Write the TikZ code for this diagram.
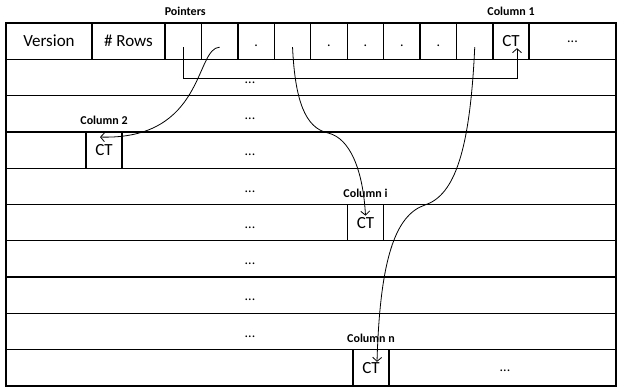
\documentclass[tikz,border=0pt]{standalone}
\usepackage{fontspec}
\setmainfont{Carlito}
\usetikzlibrary{arrows.meta,positioning,calc}

\begin{document}
\begin{tikzpicture}[
  x=0.5pt,
  y=-0.5pt,
  >={Straight Barb[length=2pt,width=4.5pt]},
  rowbox/.style={draw,line width=.65pt,minimum width=305pt,minimum height=18.15pt,inner sep=0pt},
  cell/.style={draw,line width=.65pt,minimum height=18.15pt,inner sep=0pt,
    font=\fontsize{8.5}{10}\selectfont},
  ptr/.style={cell,minimum width=18.22pt},
  ctbox/.style={cell,minimum width=18pt},
  tag/.style={font=\bfseries\fontsize{6}{7}\selectfont,inner sep=1pt},
  dots/.style={font=\fontsize{7}{8}\selectfont,inner sep=0pt},
  link/.style={->,line width=.4pt}
]

\useasboundingbox (0,0) rectangle (622,390);

% table rows
\foreach \r in {1,...,10}
  \node[rowbox] (row\r) at (311,{23+36.3*(\r-0.5)}) {};
\foreach \r in {2,...,9}
  \node[dots] (gap\r) at ($(row\r)+(-61,5)$) {...};

% header row
\node[cell,minimum width=43pt] (version) at (49,41.15) {Version};
\node[cell,minimum width=36.5pt] (nrows) at (128.5,41.15) {\# Rows};
\foreach \i in {1,...,9}
  \node[ptr] (p\i) at ({165+36.44*(\i-0.5)},41.15) {};
\foreach \i in {3,5,6,7,8}
  \node[dots] (pd\i) at ($(p\i)+(0,5)$) {.};
\node[ctbox] (ct1) at (511,41.15) {CT};
\node[cell,minimum width=43.5pt] (more1) at (572.5,41.15) {};
\node[dots] (moredots1) at ($(more1)+(0,1)$) {...};
\node[tag,above=2pt of p1,xshift=1pt] (pointers) {Pointers};
\node[tag,above=2pt of ct1] (col1) {Column 1};

% column blocks
\node[ctbox] (ct2) at (104,150.05) {CT};
\node[tag,above=2pt of ct2] (col2) {Column 2};
\node[ctbox] (cti) at (365.5,222.65) {CT};
\node[tag,above=2pt of cti] (coli) {Column i};
\node[ctbox] (ctn) at (371,367.85) {CT};
\node[tag,above=2pt of ctn] (coln) {Column n};
\node[dots] (moredotsn) at (505,371) {...};

% pointer ends
\coordinate (s1) at ($(p1)+(0,6)$);
\coordinate (s2) at ($(p2)+(0,6)$);
\coordinate (s4) at ($(p4)+(0,6)$);
\coordinate (s9) at ($(p9)+(0,6)$);
\coordinate (t1) at ($(ct1)+(6,7)$);
\coordinate (t2) at ($(ct2)+(-4,-13)$);
\coordinate (ti) at ($(cti)+(0,-7)$);
\coordinate (tn) at ($(ctn)+(6,-6)$);

\draw[link] (s1) -- ++(0,31) -| (t1);
\draw[link] (s2) .. controls (195,48) and (205,140) .. (t2);
\draw[link] (s4) .. controls (295,100) and (305,128) .. (328,133)
  .. controls (350,138) and (363,170) .. (ti);
\draw[link] (s9) .. controls (470,150) and (455,195) .. (425,205)
  .. controls (395,215) and (380,260) .. (tn);

\end{tikzpicture}
\end{document}
